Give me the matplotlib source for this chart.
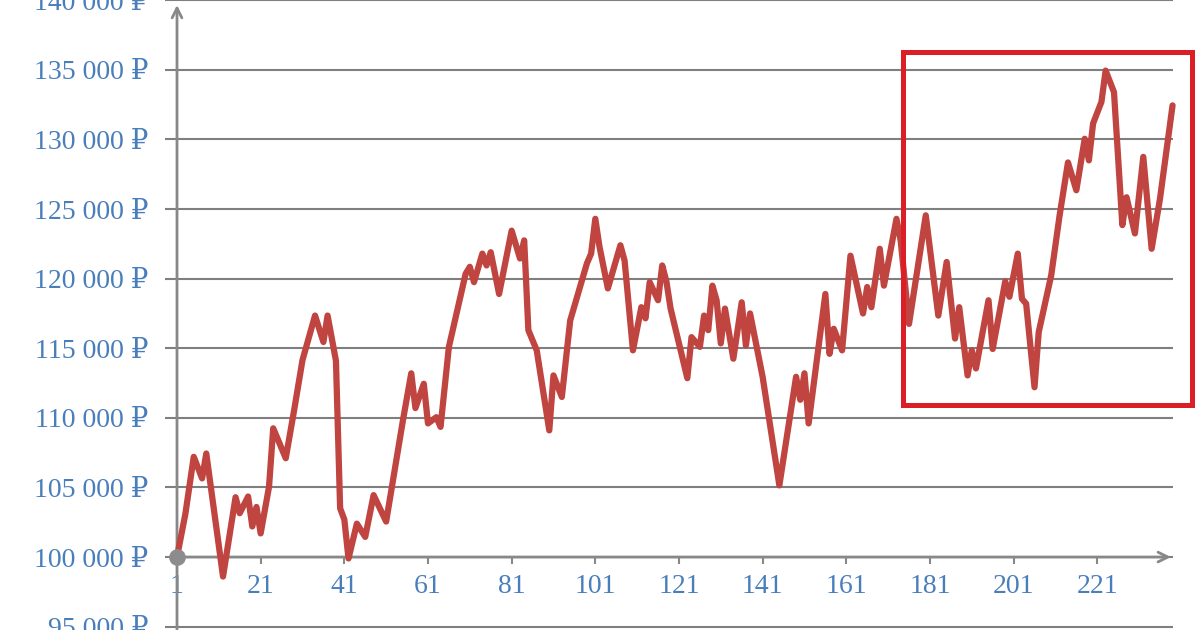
import matplotlib
matplotlib.use("Agg")
import matplotlib.pyplot as plt
from matplotlib.patches import Rectangle
from matplotlib.ticker import FuncFormatter

# account balance by day (turning points)
days = [1, 3, 5, 7, 8, 12, 15, 16, 18, 19, 20, 21, 23, 24, 27, 29, 31, 34, 36, 37,
        39, 40, 41, 42, 44, 46, 48, 51, 55, 57, 58, 60, 61, 63, 64, 66, 70, 71, 72, 74,
        75, 76, 78, 81, 83, 84, 85, 87, 90, 91, 93, 95, 99, 100, 101, 102, 104, 107, 108, 110,
        112, 113, 114, 116, 117, 118, 119, 123, 124, 126, 127, 128, 129, 130, 131, 132, 134, 136, 137, 138,
        141, 145, 149, 150, 151, 152, 155, 156, 157, 158, 160, 162, 165, 166, 167, 169, 170, 173, 174, 176,
        180, 183, 185, 187, 188, 190, 191, 192, 195, 196, 199, 200, 202, 203, 204, 206, 207, 210, 212, 214,
        216, 218, 219, 220, 222, 223, 225, 227, 228, 230, 232, 234, 236, 239]
balance = [100000, 103100, 107200, 105650, 107440, 98600, 104300, 103150, 104350, 102200,
           103600, 101700, 105050, 109250, 107100, 110550, 114150, 117350, 115450, 117350,
           114100, 103500, 102700, 99900, 102400, 101450, 104450, 102550, 109800, 113200,
           110700, 112450, 109600, 110050, 109350, 115100, 120350, 120850, 119750, 121800,
           120950, 121900, 118900, 123450, 121450, 122750, 116300, 114850, 109100, 113050,
           111500, 117000, 121100, 121800, 124300, 122300, 119300, 122400, 121300, 114850,
           117950, 117150, 119750, 118450, 120950, 119800, 117850, 112850, 115800, 115100,
           117350, 116300, 119500, 118450, 115350, 117850, 114250, 118300, 115200, 117500,
           112950, 105150, 112950, 111300, 113200, 109600, 116550, 118900, 114600, 116400,
           114850, 121650, 117500, 119400, 117950, 122150, 119500, 124300, 122750, 116750,
           124550, 117350, 121200, 115700, 117950, 113050, 114850, 113550, 118450, 114950,
           119800, 118700, 121800, 118550, 118200, 112200, 116150, 120250, 124550, 128350,
           126350, 130050, 128500, 131150, 132700, 134950, 133400, 123850, 125850, 123250,
           128750, 122150, 125750, 132450]

y_ticks = list(range(95000, 140001, 5000))
x_ticks = list(range(1, 222, 20))
highlight_days = (174.6, 243.6)
highlight_values = (110900, 136250)

LABEL_BLUE = "#4a7ebb"
GRID_GREY = "#7f7f7f"
AXIS_GREY = "#888888"
LINE_RED = "#c0443f"
BOX_RED = "#dc1f26"

plt.rcParams["font.family"] = ["Liberation Serif", "DejaVu Serif"]

fig = plt.figure(figsize=(12, 6.3), dpi=100)
ax = fig.add_axes([165 / 1200, 0, 1035 / 1200, 1])

px_per_day = 4.183
x_left = 1 - 12 / px_per_day
x_right = 1 + 1023 / px_per_day
grid_end = 1 + 996 / px_per_day
ax.set_xlim(x_left, x_right)
ax.set_ylim(94760, 140020)

for s in ax.spines.values():
    s.set_visible(False)
ax.spines["bottom"].set_position(("data", 100000))

# horizontal grid
ax.hlines(y_ticks, x_left, grid_end, color=GRID_GREY, lw=1.5, zorder=1)

# axes with arrows
ax.annotate("", xy=(1, 139660), xytext=(1, 94760),
            arrowprops=dict(arrowstyle="->,head_length=0.7,head_width=0.35",
                            color=AXIS_GREY, lw=2, shrinkA=0, shrinkB=0),
            annotation_clip=False, zorder=2)
ax.annotate("", xy=(238.6, 100000), xytext=(1, 100000),
            arrowprops=dict(arrowstyle="->,head_length=0.7,head_width=0.35",
                            color=AXIS_GREY, lw=2, shrinkA=0, shrinkB=0),
            annotation_clip=False, zorder=2)

ax.set_yticks(y_ticks)
ax.set_xticks(x_ticks)
ax.yaxis.set_major_formatter(FuncFormatter(lambda v, _: f"{int(v):,}".replace(",", " ") + " ₽"))
ax.tick_params(axis="y", length=0, pad=12, labelcolor=LABEL_BLUE, labelsize=20)
ax.tick_params(axis="x", length=5, width=1.5, color=AXIS_GREY, direction="out",
               pad=7, labelcolor=LABEL_BLUE, labelsize=20)

ax.plot(days, balance, color=LINE_RED, lw=4.5, solid_joinstyle="round",
        solid_capstyle="round", zorder=3)
ax.plot(days[0], balance[0], "o", ms=11, color="#8c8c8c", zorder=4)

ax.add_patch(Rectangle((highlight_days[0], highlight_values[0]),
                       highlight_days[1] - highlight_days[0],
                       highlight_values[1] - highlight_values[0],
                       fill=False, ec=BOX_RED, lw=3.6, clip_on=False, zorder=5))

fig.savefig("out.png", dpi=100)
